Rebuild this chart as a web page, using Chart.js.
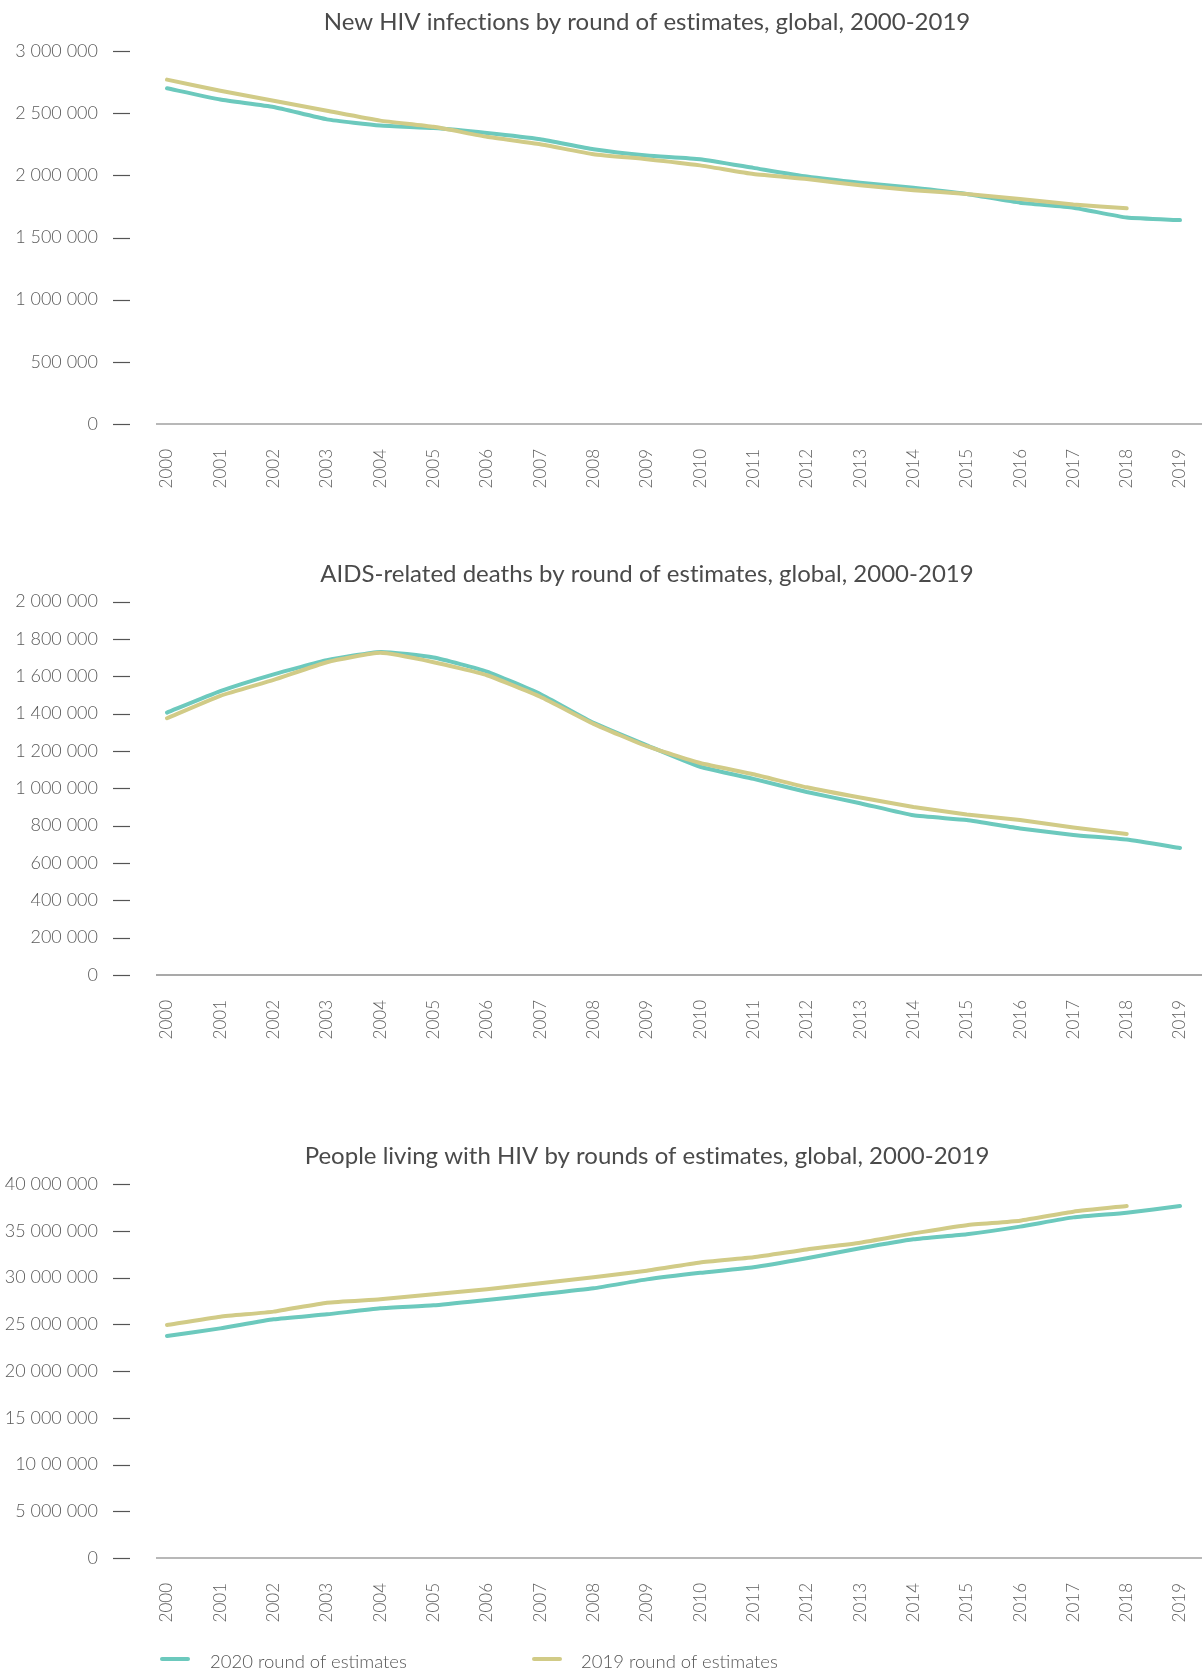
<!DOCTYPE html>
<html>
<head>
<meta charset="utf-8">
<script src="https://cdn.jsdelivr.net/npm/chart.js@4.4.1/dist/chart.umd.min.js"></script>
<style>
  body { margin: 0; background: #fff; width: 1202px; height: 1669px; overflow: hidden; position: relative; font-family: Lato, "Noto Sans", sans-serif; }
  canvas { position: absolute; left: 0; }
  .leg { position: absolute; top: 1651px; height: 20px; line-height: 20px; font-size: 18.5px; font-weight: 300; color: #555; white-space: nowrap; }
  .sw { position: absolute; height: 4px; border-radius: 2px; top: 1657px; width: 30px; }
</style>
</head>
<body>
<canvas id="c1" width="1202" height="500" style="top:0"></canvas>
<canvas id="c2" width="1202" height="520" style="top:530px"></canvas>
<canvas id="c3" width="1202" height="559" style="top:1110px"></canvas>

<div class="sw" style="left:160px;background:#6cc9bd"></div>
<div class="leg" style="left:210px">2020 round of estimates</div>
<div class="sw" style="left:532px;background:#d1cb87"></div>
<div class="leg" style="left:581px">2019 round of estimates</div>

<script>
  const years = ['2000', '2001', '2002', '2003', '2004', '2005', '2006', '2007', '2008', '2009',
    '2010', '2011', '2012', '2013', '2014', '2015', '2016', '2017', '2018', '2019'];

  const seriesNames = ['2020 round of estimates', '2019 round of estimates'];

  // New HIV infections
  const newInf2020 = [2700000, 2610000, 2550000, 2450000, 2400000, 2380000, 2340000, 2290000, 2210000, 2160000,
    2130000, 2060000, 1990000, 1940000, 1900000, 1850000, 1780000, 1740000, 1660000, 1640000];
  const newInf2019 = [2770000, 2680000, 2600000, 2520000, 2440000, 2390000, 2310000, 2250000, 2170000, 2130000,
    2080000, 2010000, 1970000, 1920000, 1880000, 1850000, 1810000, 1765000, 1735000];
  const newInfTicks = ['0', '500 000', '1 000 000', '1 500 000', '2 000 000', '2 500 000', '3 000 000'];

  // AIDS-related deaths
  const deaths2020 = [1405000, 1520000, 1610000, 1685000, 1730000, 1700000, 1625000, 1505000, 1350000, 1230000,
    1115000, 1050000, 980000, 920000, 855000, 830000, 785000, 750000, 725000, 680000];
  const deaths2019 = [1375000, 1495000, 1580000, 1675000, 1725000, 1675000, 1605000, 1490000, 1345000, 1225000,
    1135000, 1075000, 1005000, 950000, 900000, 860000, 830000, 790000, 755000];
  const deathsTicks = ['0', '200 000', '400 000', '600 000', '800 000', '1 000 000', '1 200 000',
    '1 400 000', '1 600 000', '1 800 000', '2 000 000'];

  // People living with HIV
  const plhiv2020 = [23740000, 24560000, 25530000, 26060000, 26700000, 27020000, 27600000, 28200000, 28840000, 29800000,
    30500000, 31090000, 32050000, 33120000, 34080000, 34620000, 35440000, 36430000, 36930000, 37650000];
  const plhiv2019 = [24920000, 25810000, 26350000, 27310000, 27670000, 28200000, 28740000, 29380000, 30020000, 30730000,
    31600000, 32160000, 33000000, 33720000, 34720000, 35600000, 36080000, 37040000, 37650000];
  const plhivTicks = ['0', '5 000 000', '10 00 000', '15 000 000', '20 000 000', '25 000 000',
    '30 000 000', '35 000 000', '40 000 000'];

  const tealColor = '#6cc9bd';
  const oliveColor = '#d1cb87';
  const fontFamily = 'Lato, "Noto Sans", sans-serif';

  // title, tick dashes and the base line
  const decor = {
    id: 'decor',
    beforeDatasetsDraw(chart, args, opts) {
      const { ctx, chartArea, scales: { y } } = chart;
      ctx.save();
      const zy = y.getPixelForValue(0);
      ctx.strokeStyle = opts.axisColor;
      ctx.lineWidth = opts.axisWidth;
      ctx.beginPath();
      ctx.moveTo(chartArea.left - 11, zy);
      ctx.lineTo(chart.width, zy);
      ctx.stroke();
      ctx.restore();
    },
    afterDraw(chart, args, opts) {
      const { ctx, scales: { y } } = chart;
      ctx.save();
      ctx.strokeStyle = '#555';
      ctx.lineWidth = 1.2;
      y.ticks.forEach((t, i) => {
        const py = Math.round(y.getPixelForTick(i)) + 0.5;
        ctx.beginPath();
        ctx.moveTo(113, py);
        ctx.lineTo(130, py);
        ctx.stroke();
      });
      ctx.fillStyle = '#4a4a4a';
      ctx.font = '400 24px ' + fontFamily;
      if ('textRendering' in ctx) ctx.textRendering = 'optimizeSpeed';
      ctx.textAlign = 'center';
      ctx.textBaseline = 'middle';
      ctx.fillText(opts.title, 647, opts.titleY);
      ctx.restore();
    }
  };

  function makeChart(id, title, titleY, a, b, max, step, tickLabels, topPad, xHeight, axisColor, axisWidth) {
    return new Chart(document.getElementById(id), {
      type: 'line',
      data: {
        labels: years,
        datasets: [
          { label: seriesNames[0], data: a, borderColor: tealColor, order: 1 },
          { label: seriesNames[1], data: b, borderColor: oliveColor, order: 0 }
        ]
      },
      options: {
        responsive: false,
        animation: false,
        layout: { autoPadding: false, padding: { top: topPad, right: 22, left: 0, bottom: 0 } },
        elements: {
          line: { borderWidth: 4, tension: 0.15, borderCapStyle: 'round', borderJoinStyle: 'round', fill: false },
          point: { radius: 0 }
        },
        plugins: {
          legend: { display: false },
          tooltip: { enabled: false },
          decor: { title: title, titleY: titleY, axisColor: axisColor, axisWidth: axisWidth }
        },
        scales: {
          x: {
            offset: false,
            grid: { display: false, drawTicks: false },
            border: { display: false },
            ticks: {
              autoSkip: false, minRotation: 90, maxRotation: 90, padding: 25,
              color: '#5f5f5f', font: { family: fontFamily, size: 17, weight: '300' }
            },
            afterFit(scale) {
              scale.height = xHeight;
              scale.paddingLeft = 0;
              scale.paddingRight = 0;
            }
          },
          y: {
            min: 0, max: max,
            grid: { display: false, drawTicks: false },
            border: { display: false },
            ticks: {
              stepSize: step, padding: 69,
              color: '#5a5a5a', font: { family: fontFamily, size: 18, weight: '300' },
              callback: (v, i) => tickLabels[i]
            },
            afterFit(scale) {
              scale.width = 167;
              scale.paddingTop = 0;
              scale.paddingBottom = 0;
            }
          }
        }
      },
      plugins: [decor]
    });
  }

  makeChart('c1', 'New HIV infections by round of estimates, global, 2000-2019', 22,
    newInf2020, newInf2019, 3000000, 500000, newInfTicks, 51, 76, '#b8b8b8', 2);
  makeChart('c2', 'AIDS-related deaths by round of estimates, global, 2000-2019', 44,
    deaths2020, deaths2019, 2000000, 200000, deathsTicks, 71.5, 75, '#8c8c8c', 1.3);
  makeChart('c3', 'People living with HIV by rounds of estimates, global, 2000-2019', 46,
    plhiv2020, plhiv2019, 40000000, 5000000, plhivTicks, 74, 111, '#b8b8b8', 2);
</script>
</body>
</html>
